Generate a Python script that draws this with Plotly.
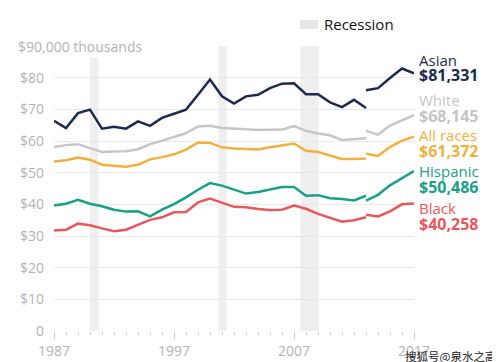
import plotly.graph_objects as go

years_a = list(range(1987, 2014))
years_b = list(range(2013, 2018))

asian_a = [66.4, 64.1, 68.8, 69.9, 63.9, 64.5, 63.9, 66.2, 64.8, 67.3, 68.6, 69.9, 74.6, 79.4,
           74.1, 71.8, 74.1, 74.6, 76.7, 78.1, 78.2, 74.8, 74.8, 72.2, 70.7, 73.0, 70.4]
asian_b = [76.0, 76.7, 79.9, 82.9, 81.331]
white_a = [58.1, 58.7, 59.0, 57.8, 56.5, 56.7, 56.8, 57.4, 59.0, 60.1, 61.2, 62.5, 64.6, 64.8,
           64.1, 63.8, 63.7, 63.5, 63.6, 63.6, 64.7, 63.2, 62.4, 61.8, 60.3, 60.6, 60.9]
white_b = [63.2, 62.0, 64.9, 66.6, 68.145]
all_a = [53.5, 53.9, 54.8, 54.1, 52.5, 52.2, 51.9, 52.5, 54.2, 54.9, 55.8, 57.3, 59.5, 59.4,
         58.0, 57.6, 57.4, 57.3, 58.0, 58.5, 59.2, 56.9, 56.5, 55.4, 54.3, 54.3, 54.5]
all_b = [56.0, 55.3, 58.1, 60.1, 61.372]
hisp_a = [39.6, 40.2, 41.4, 40.2, 39.4, 38.3, 37.7, 37.8, 36.2, 38.3, 40.1, 42.2, 44.6, 46.7,
          45.9, 44.6, 43.4, 43.9, 44.6, 45.5, 45.5, 42.7, 42.9, 41.9, 41.7, 41.2, 42.7]
hisp_b = [41.2, 43.0, 46.0, 48.2, 50.486]
black_a = [31.7, 32.0, 33.9, 33.4, 32.4, 31.5, 32.0, 33.6, 35.1, 35.9, 37.5, 37.6, 40.6, 41.8,
           40.4, 39.2, 39.1, 38.5, 38.2, 38.3, 39.6, 38.6, 37.0, 35.7, 34.5, 35.0, 35.9]
black_b = [36.7, 36.2, 37.8, 40.0, 40.258]

names = ["Asian", "White", "All races", "Hispanic", "Black"]
values_label = ["$81,331", "$68,145", "$61,372", "$50,486", "$40,258"]
series = [(asian_a, asian_b), (white_a, white_b), (all_a, all_b), (hisp_a, hisp_b), (black_a, black_b)]
colors = ["#1c2a4f", "#c6c6c6", "#f2b13c", "#19a08b", "#e8575b"]

recessions = [(1990.0, 1990.7), (2000.7, 2001.4), (2007.55, 2009.05)]
ytick_vals = [0, 10, 20, 30, 40, 50, 60, 70, 80, 90]
ytick_text = ["0", "$10", "$20", "$30", "$40", "$50", "$60", "$70", "$80", ""]
xtick_vals = [1987, 1997, 2007, 2017]

FONT = "Open Sans"
L, R, T, B = 46, 406, 38, 323
W, H = 500, 362

def px(xp):
    return (xp - L) / (R - L)

def py(yp):
    return (B - yp) / (B - T)

fig = go.Figure()
for (a, b), c, n in zip(series, colors, names):
    fig.add_trace(go.Scatter(x=years_a, y=a, mode="lines", line=dict(color=c, width=2.5),
                             name=n, showlegend=False, hoverinfo="skip"))
    fig.add_trace(go.Scatter(x=years_b, y=b, mode="lines", line=dict(color=c, width=2.5),
                             name=n, showlegend=False, hoverinfo="skip"))

for x0, x1 in recessions:
    fig.add_shape(type="rect", xref="x", yref="y", x0=x0, x1=x1, y0=0, y1=90,
                  fillcolor="#efefef", line=dict(width=0), layer="below")

# legend for recession
fig.add_shape(type="rect", xref="paper", yref="paper", x0=px(292), x1=px(310),
              y0=py(21), y1=py(12), fillcolor="#e6e6e6", line=dict(width=0))
fig.add_annotation(xref="paper", yref="paper", x=px(314), y=py(16), text="Recession",
                   showarrow=False, xanchor="left", yanchor="middle",
                   font=dict(family=FONT, size=15, color="#111111"))

# top y label
fig.add_annotation(xref="paper", yref="y", x=px(8), y=90, text="$90,000 thousands",
                   showarrow=False, xanchor="left", yanchor="middle", bgcolor="white",
                   font=dict(family=FONT, size=14, color="#b3b3b3"))

# right labels
name_y = [52, 92, 127, 163, 200]
val_y = [67, 108, 143, 179, 216]
for n, v, c, ny, vy in zip(names, values_label, colors, name_y, val_y):
    fig.add_annotation(xref="paper", yref="paper", x=px(409), y=py(ny), text=n,
                       showarrow=False, xanchor="left", yanchor="middle",
                       font=dict(family=FONT, size=15, color=c))
    fig.add_annotation(xref="paper", yref="paper", x=px(409), y=py(vy), text="<b>" + v + "</b>",
                       showarrow=False, xanchor="left", yanchor="middle",
                       font=dict(family=FONT, size=16, color=c))

# watermark
fig.add_annotation(xref="paper", yref="paper", x=px(490), y=py(348), text="搜狐号@泉水之高",
                   showarrow=False, xanchor="right", yanchor="middle",
                   font=dict(family="Noto Sans CJK SC", size=11.5, color="#222222"))

fig.update_layout(
    width=W, height=H,
    margin=dict(l=L, r=W - R, t=T, b=H - B, pad=0, autoexpand=False),
    plot_bgcolor="white", paper_bgcolor="white",
    xaxis=dict(range=[1987, 2017], tickvals=xtick_vals, ticktext=[str(v) for v in xtick_vals],
               automargin=False,
               showgrid=False, zeroline=False, ticks="outside", ticklen=7, tickwidth=1,
               tickcolor="#cccccc", showline=False,
               minor=dict(dtick=1, ticks="outside", ticklen=3, tickcolor="#cccccc", showgrid=False),
               tickfont=dict(family=FONT, size=14, color="#b3b3b3")),
    yaxis=dict(range=[0, 90], tickvals=ytick_vals, ticktext=ytick_text,
               automargin=False,
               showgrid=True, gridcolor="#e8e8e8", gridwidth=1, zeroline=False,
               ticks="", ticklabelstandoff=9,
               tickfont=dict(family=FONT, size=14, color="#b3b3b3")),
)

fig.write_html("out.html")
